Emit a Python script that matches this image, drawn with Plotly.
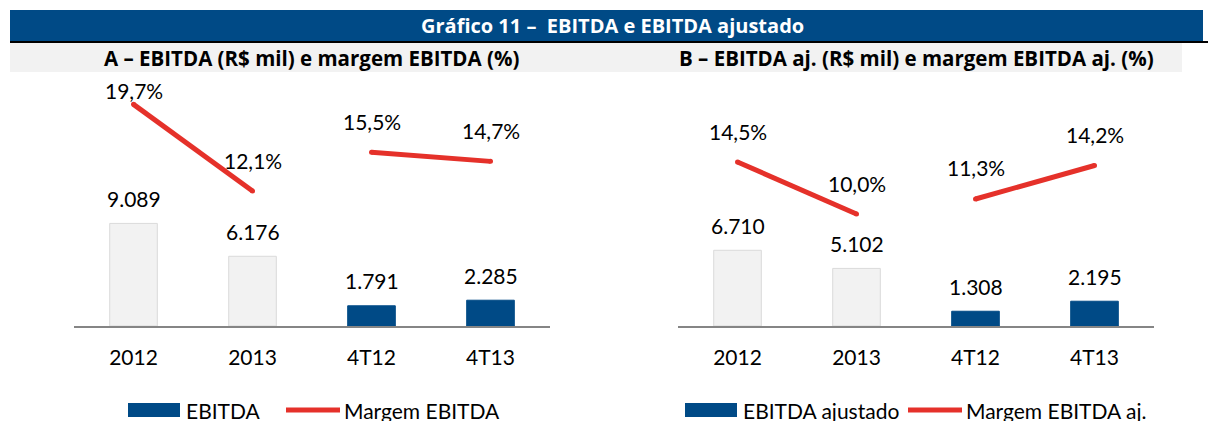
import plotly.graph_objects as go

# ---------------- data ----------------
categories = ["2012", "2013", "4T12", "4T13"]
ebitda = [9089, 6176, 1791, 2285]
margem_ebitda = [19.7, 12.1, 15.5, 14.7]
ebitda_aj = [6710, 5102, 1308, 2195]
margem_ebitda_aj = [14.5, 10.0, 11.3, 14.2]
annual_idx = [0, 1]
quarter_idx = [2, 3]

title_text = "Gráfico 11 –  EBITDA e EBITDA ajustado"
sub_a = "A – EBITDA (R$ mil) e margem EBITDA (%)"
sub_b = "B – EBITDA aj. (R$ mil) e margem EBITDA aj. (%)"
legend_a = ["EBITDA", "Margem EBITDA"]
legend_b = ["EBITDA ajustado", "Margem EBITDA aj."]

# ---------------- style ----------------
W, H = 1208, 421
BLUE = "#004A86"
GRAY_BAR = "#F2F2F2"
RED = "#E5312A"
FONT = "Lato"
BFONT = "Open Sans"


def px(x):
    return x / W


def py(y):
    return (H - y) / H


def fmt_int(v):
    return f"{v:,}".replace(",", ".")


def fmt_pct(p):
    return f"{p:.1f}".replace(".", ",") + "%"


bar_colors = [GRAY_BAR, GRAY_BAR, BLUE, BLUE]
bar_line_colors = ["#DADADA", "#DADADA", BLUE, BLUE]

fig = go.Figure()

panels = [
    dict(bars=ebitda, marg=margem_ebitda, xa="x", ya="y", ya2="y2",
         xdom=[px(74), px(550)], yr2=[0.26, 20.96]),
    dict(bars=ebitda_aj, marg=margem_ebitda_aj, xa="x2", ya="y3", ya2="y4",
         xdom=[px(678), px(1154)], yr2=[0.31, 20.73]),
]

annotations = []
for k, p in enumerate(panels):
    fig.add_trace(go.Bar(
        x=categories, y=p["bars"], xaxis=p["xa"], yaxis=p["ya"],
        marker=dict(color=bar_colors, line=dict(color=bar_line_colors, width=1)),
        width=0.4, showlegend=False, hoverinfo="skip"))
    for seg in (annual_idx, quarter_idx):
        fig.add_trace(go.Scatter(
            x=[categories[i] for i in seg], y=[p["marg"][i] for i in seg],
            xaxis=p["xa"], yaxis=p["ya2"], mode="lines+markers",
            line=dict(color=RED, width=5), marker=dict(color=RED, size=5),
            showlegend=False, hoverinfo="skip"))
    for i, v in enumerate(p["bars"]):
        annotations.append(dict(x=i, y=v, xref=p["xa"], yref=p["ya"], text=fmt_int(v),
                                showarrow=False, yshift=25, xanchor="center", yanchor="middle",
                                font=dict(family=FONT, size=21, color="#000")))
    for i, m in enumerate(p["marg"]):
        # top label of panel A sits lower (clipped at the plot top in the original)
        shift = 14 if (k == 0 and i == 0) else 31
        annotations.append(dict(x=i, y=m, xref=p["xa"], yref=p["ya2"], text=fmt_pct(m),
                                showarrow=False, yshift=shift, xanchor="center", yanchor="middle",
                                font=dict(family=FONT, size=21, color="#000")))

ydom = [py(326), py(90)]
axis_common = dict(type="category", showgrid=False, zeroline=False, showline=True,
                   linecolor="#858585", linewidth=2, ticks="", ticklabelstandoff=12,
                   tickfont=dict(family=FONT, size=21, color="#000"), fixedrange=True)
yhidden = dict(visible=False, showgrid=False, zeroline=False, fixedrange=True)

fig.update_layout(
    width=W, height=H, margin=dict(l=0, r=0, t=0, b=0),
    paper_bgcolor="white", plot_bgcolor="rgba(0,0,0,0)",
    xaxis=dict(domain=panels[0]["xdom"], anchor="y", range=[-0.5, 3.5], **axis_common),
    xaxis2=dict(domain=panels[1]["xdom"], anchor="y3", range=[-0.5, 3.5], **axis_common),
    yaxis=dict(domain=ydom, anchor="x", range=[0, 20910], **yhidden),
    yaxis2=dict(domain=ydom, anchor="x", overlaying="y", side="right",
                range=panels[0]["yr2"], **yhidden),
    yaxis3=dict(domain=ydom, anchor="x2", range=[0, 20910], **yhidden),
    yaxis4=dict(domain=ydom, anchor="x2", overlaying="y3", side="right",
                range=panels[1]["yr2"], **yhidden),
)

shapes = [
    # title band
    dict(type="rect", xref="paper", yref="paper", x0=px(10), x1=px(1203), y0=py(41), y1=py(10),
         fillcolor=BLUE, line=dict(width=0), layer="below"),
    dict(type="line", xref="paper", yref="paper", x0=px(10), x1=px(1208), y0=py(42), y1=py(42),
         line=dict(color="#000", width=2)),
    dict(type="rect", xref="paper", yref="paper", x0=px(10), x1=px(1182), y0=py(72), y1=py(43),
         fillcolor="#F2F2F2", line=dict(width=0), layer="below"),
]

annotations += [
    dict(x=px(612), y=py(26), xref="paper", yref="paper", text=f"<b>{title_text}</b>",
         xanchor="center", yanchor="middle",
         showarrow=False, font=dict(family=BFONT, size=20, color="white")),
    dict(x=px(311), y=py(58), xref="paper", yref="paper", text=f"<b>{sub_a}</b>",
         xanchor="center", yanchor="middle",
         showarrow=False, font=dict(family=BFONT, size=20.5, color="#000")),
    dict(x=px(916), y=py(58), xref="paper", yref="paper", text=f"<b>{sub_b}</b>",
         xanchor="center", yanchor="middle",
         showarrow=False, font=dict(family=BFONT, size=20.5, color="#000")),
]

# custom legends
legend_specs = [
    (legend_a, 128, 180, 184, 286, 340, 342),
    (legend_b, 685, 737, 741, 908, 962, 964),
]
LY = 410
for names, r0, r1, t1, l0, l1, t2 in legend_specs:
    shapes.append(dict(type="rect", xref="paper", yref="paper", x0=px(r0), x1=px(r1),
                       y0=py(LY + 7), y1=py(LY - 7), fillcolor=BLUE, line=dict(width=0)))
    shapes.append(dict(type="line", xref="paper", yref="paper", x0=px(l0), x1=px(l1),
                       y0=py(LY), y1=py(LY), line=dict(color=RED, width=5)))
    annotations.append(dict(x=px(t1), y=py(LY), xref="paper", yref="paper", text=names[0],
                            xanchor="left", yanchor="middle", showarrow=False,
                            font=dict(family=FONT, size=21, color="#000")))
    annotations.append(dict(x=px(t2), y=py(LY), xref="paper", yref="paper", text=names[1],
                            xanchor="left", yanchor="middle", showarrow=False,
                            font=dict(family=FONT, size=21, color="#000")))

fig.update_layout(shapes=shapes, annotations=annotations)
fig.write_html("out.html", config={"displayModeBar": False},
               post_script="document.body.style.margin='0';document.body.style.overflow='hidden';")
